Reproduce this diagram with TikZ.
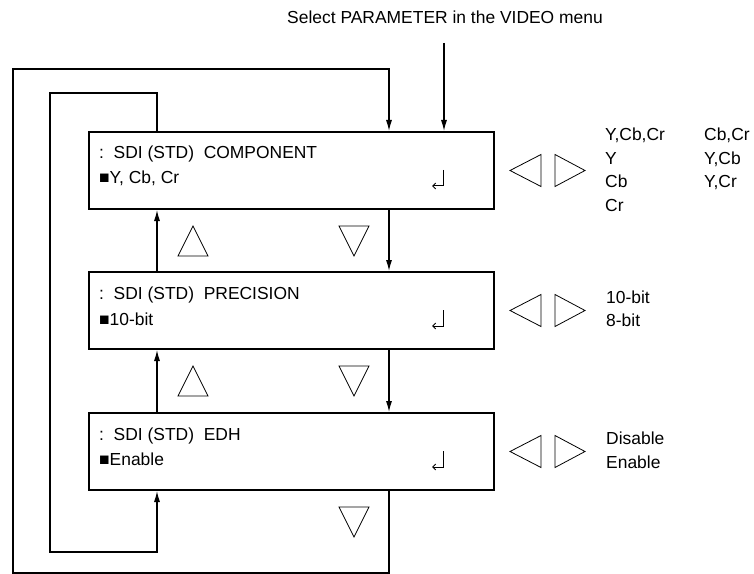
\documentclass[tikz,border=0pt]{standalone}
\usepackage{fontspec}
\setmainfont{Liberation Sans}
\usetikzlibrary{arrows.meta}
\tikzset{
  menubox/.style={draw,line width=2bp,minimum width=405bp,minimum height=77bp,anchor=north west,inner sep=0pt},
  conn/.style={line width=1.2bp},
  arr/.style={conn,-{Latex[length=11bp,width=6bp]}},
  ret/.style={line width=1bp,-{Straight Barb[length=3bp,width=6bp]}},
  tri/.style={line width=0.8bp,line join=miter},
  txt/.style={anchor=base west,inner sep=0pt,font=\fontsize{17.5}{20}\selectfont},
}
\begin{document}
\begin{tikzpicture}[x=1bp,y=-1bp]
  \useasboundingbox (0,0) rectangle (754,574);
  % menu boxes
  \node[menubox] (b1) at (88,131) {};
  \node[menubox] (b2) at (88,271) {};
  \node[menubox] (b3) at (88,412) {};
  \node[txt] (t1a) at (99,159) {:\ \ SDI (STD)\ \ COMPONENT};
  \node[txt] (t1b) at (99,184) {■Y, Cb, Cr};
  \node[txt] (t2a) at (99,299) {:\ \ SDI (STD)\ \ PRECISION};
  \node[txt] (t2b) at (99,325) {■10-bit};
  \node[txt] (t3a) at (99,440) {:\ \ SDI (STD)\ \ EDH};
  \node[txt] (t3b) at (99,465) {■Enable};
  % choices
  \node[txt] (c1) at (605,141) {Y,Cb,Cr};
  \node[txt] (c2) at (605,164.5) {Y};
  \node[txt] (c3) at (605,188) {Cb};
  \node[txt] (c4) at (605,211.5) {Cr};
  \node[txt] (c5) at (704,141) {Cb,Cr};
  \node[txt] (c6) at (704,164.5) {Y,Cb};
  \node[txt] (c7) at (704,188) {Y,Cr};
  \node[txt] (p1) at (606,303) {10-bit};
  \node[txt] (p2) at (606,326) {8-bit};
  \node[txt] (e1) at (606,444) {Disable};
  \node[txt] (e2) at (606,468) {Enable};
  % title
  \node[txt,anchor=base] (title) at (445,24) {Select PARAMETER in the VIDEO menu};
  \coordinate (start) at (444,43);
  \coordinate (up) at (157,0);
  \coordinate (dn) at (389,0);
  \coordinate (inTL) at (50,93);
  \coordinate (inBL) at (50,552);
  \coordinate (outTL) at (13,69);
  \coordinate (outBL) at (13,573);
  % connectors
  \draw[arr] (start) -- (b1.north -| start);
  \draw[arr] (b2.north -| up) -- (b1.south -| up);
  \draw[arr] (b3.north -| up) -- (b2.south -| up);
  \draw[arr] (b1.south -| dn) -- (b2.north -| dn);
  \draw[arr] (b2.south -| dn) -- (b3.north -| dn);
  \draw[arr] (b1.north -| up) |- (inTL) -- (inBL) -| (b3.south -| up);
  \draw[arr] (b3.south -| dn) |- (outBL) -- (outTL) -| (b1.north -| dn);
  % keys and enter marks
  \foreach \b in {b1,b2,b3} {
    \draw[tri] (\b.east) ++(15,0) -- ++(31,-16) -- ++(0,32) -- cycle;
    \draw[tri] (\b.east) ++(90,0) -- ++(-30,-16) -- ++(0,32) -- cycle;
    \draw[ret] (\b.north west) ++(355,39) -- ++(0,16) -- ++(-11,0);
    \draw[tri] (\b.south west) ++(251,16) -- ++(30,0) -- ++(-15,30) -- cycle;
  }
  \foreach \b in {b1,b2}
    \draw[tri] (\b.south west) ++(90,46) -- ++(30,0) -- ++(-15,-30) -- cycle;
\end{tikzpicture}
\end{document}
